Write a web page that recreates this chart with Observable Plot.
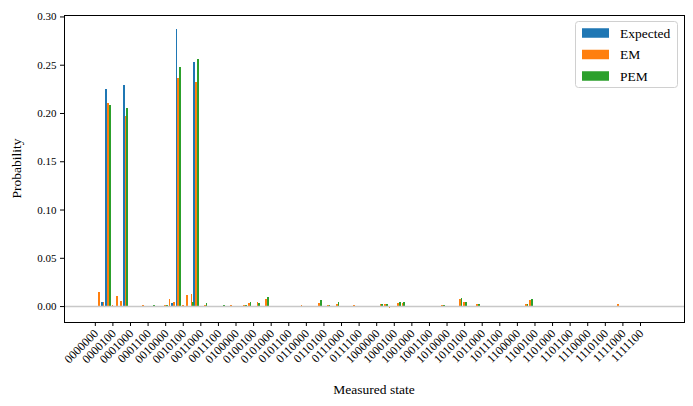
<!DOCTYPE html>
<html><head><meta charset="utf-8">
<script src="https://cdn.jsdelivr.net/npm/d3@7"></script>
<script src="https://cdn.jsdelivr.net/npm/@observablehq/plot@0.6"></script>
<style>body{margin:0;background:#fff} svg text{font-family:"Liberation Serif",serif !important;}</style>
</head><body><div id="chart"></div>
<script>
// tick labels (every 4th of the 128 measured states)
const tickLabels = ["0000000","0000100","0001000","0001100","0010000","0010100","0011000","0011100",
  "0100000","0100100","0101000","0101100","0110000","0110100","0111000","0111100",
  "1000000","1000100","1001000","1001100","1010000","1010100","1011000","1011100",
  "1100000","1100100","1101000","1101100","1110000","1110100","1111000","1111100"];
const seriesNames = ["Expected", "EM", "PEM"];
const seriesColors = ["#1f77b4", "#ff7f0e", "#2ca02c"];

// probabilities per state index 0..127
const expected = [
  0,0,0.004,0.225,0,0,0,0.229,0,0,0,0,0,0,0,0,
  0,0,0.003,0.287,0,0,0.0005,0.253,0,0,0,0,0,0,0,0,
  0,0,0,0,0,0,0,0,0,0,0,0,0,0,0,0,
  0,0,0,0,0,0,0,0,0,0,0,0,0,0,0,0,
  0,0,0,0,0,0,0,0,0,0,0,0,0,0,0,0,
  0,0,0,0,0,0,0,0,0,0,0,0,0,0,0,0,
  0,0,0,0,0,0,0,0,0,0,0,0,0,0,0,0,
  0,0,0,0,0,0,0,0,0,0,0,0,0,0,0,0];
const em = [
  0,0.015,0.0045,0.210,0.0007,0.010,0.005,0.197,0,-0.001,0,0.0007,0,-0.001,0,0,
  0.0007,0.007,0.004,0.236,0.0007,0.011,0.012,0.232,0,0.0007,0,0,0,-0.001,0,0.0007,
  0,0,0.0007,0.003,0,0.004,-0.001,0.007,0,0,0,0,0,0,0,0.0007,
  0,-0.001,0,0.003,0,0.0007,-0.001,0.0017,0,0,0,0.0007,0,0,0,0,
  0,0.0017,0.0017,-0.002,0,0.003,0.003,0,0,0,0,0,0,0,0,0.0007,
  0,-0.001,-0.001,0.007,0.004,-0.001,0,0.0017,0,0,0,0,0,0,0,0,
  0,0,0.0017,0.006,0,0,0,-0.0007,0,0,0,0,0,0,0,0,
  0,0,0,0,0,0,0,0.0017,0,0,0,0,0,0,0,0];
const pem = [
  0,0,0,0.2086,0,0,0,0.2055,0,0,0,0,0,0.0007,0,0,
  0.0007,0,0,0.248,0,0,0.004,0.256,0,0.003,0,0,0,0.0007,0,0,
  0,0,0.0007,0.004,0,0.003,0,0.0095,0,0,0,0,0,0,0,0,
  0,0,0,0.006,0,0.0007,0,0.004,0,0,0,0,0,0,0,0,
  0,0.0017,0.0017,0,0,0.004,0.004,0,0,0,0,0,0,0,0,0.0007,
  0,0,0,0.008,0.004,0,0,0.0017,0,0,0,0,0,0,0,0,
  0,0,0.0017,0.007,0,0,0,0,0,0,0,0,0,0,0,0,
  0,0,0,0,0,0,0,0,0,0,0,0,0,0,0,0];
const yTicks = [0, 0.05, 0.10, 0.15, 0.20, 0.25, 0.30];

const series = [expected, em, pem];
const barW = 0.4;
const tickPos = tickLabels.map((d, i) => i * 4);

const barMarks = series.map((vals, s) => {
  const rows = vals.map((v, i) => ({i, v, x1: i + (s - 1) * barW - barW / 2, x2: i + (s - 1) * barW + barW / 2}));
  return Plot.rect(rows, {x1: "x1", x2: "x2", y1: () => 0, y2: "v", fill: seriesColors[s], shapeRendering: "crispEdges"});
});

const plot = Plot.plot({
  width: 693, height: 406,
  marginLeft: 64, marginRight: 9, marginTop: 15, marginBottom: 84,
  style: {fontFamily: "'Liberation Serif', serif", fontSize: "11px", color: "black", background: "white"},
  x: {domain: [-7.01, 134.01]},
  y: {domain: [-0.0165, 0.3015]},
  marks: [
    ...barMarks,
    Plot.ruleY([0], {stroke: "#c8c8c8", strokeWidth: 1.6}),
    Plot.frame({stroke: "black", strokeWidth: 1}),
    Plot.axisY({ticks: yTicks, tickSize: 4, tickPadding: 4, tickFormat: d3.format(".2f"), label: null, fontSize: 11}),
    Plot.axisX({ticks: tickPos, tickSize: 4, tickFormat: () => "", label: null}),
    Plot.text(tickPos, {x: d => d, text: (d, i) => tickLabels[i], frameAnchor: "bottom", rotate: -45,
      textAnchor: "end", lineAnchor: "middle", dx: 1, dy: 9, fontSize: 12, fill: "black"})
  ]
});
document.getElementById("chart").appendChild(plot);

const svg = d3.select(plot);
svg.append("text").attr("transform", "translate(20.5,168.5) rotate(-90)").attr("text-anchor", "middle")
  .attr("font-size", 13.5).attr("fill", "black").text("Probability");
svg.append("text").attr("x", 374).attr("y", 394).attr("text-anchor", "middle")
  .attr("font-size", 13.5).attr("fill", "black").text("Measured state");

const lg = svg.append("g");
lg.append("rect").attr("x", 575.5).attr("y", 21.5).attr("width", 102).attr("height", 66).attr("rx", 3)
  .attr("fill", "white").attr("fill-opacity", 0.8).attr("stroke", "#d0d0d0");
seriesNames.forEach((n, i) => {
  const cy = 33 + i * 21.5;
  lg.append("rect").attr("x", 582).attr("y", cy - 4.75).attr("width", 27).attr("height", 9.5).attr("fill", seriesColors[i]);
  lg.append("text").attr("x", 620).attr("y", cy + 4.6).attr("text-anchor", "start").attr("font-size", 13.5).attr("fill", "black").text(n);
});
</script>
</body></html>
